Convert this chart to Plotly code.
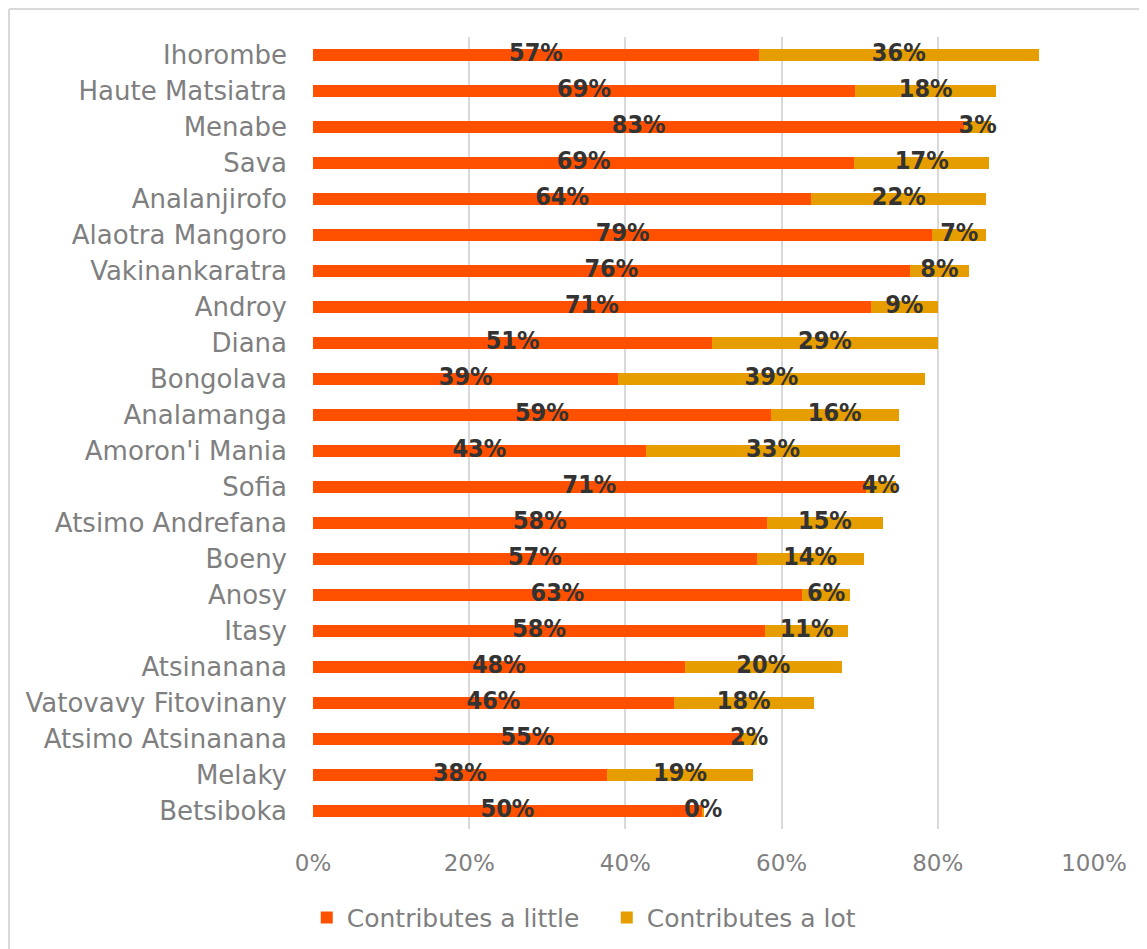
import plotly.graph_objects as go

regions = ["Ihorombe", "Haute Matsiatra", "Menabe", "Sava", "Analanjirofo",
           "Alaotra Mangoro", "Vakinankaratra", "Androy", "Diana", "Bongolava",
           "Analamanga", "Amoron'i Mania", "Sofia", "Atsimo Andrefana", "Boeny",
           "Anosy", "Itasy", "Atsinanana", "Vatovavy Fitovinany",
           "Atsimo Atsinanana", "Melaky", "Betsiboka"]

contributes_little = [57.1, 69.4, 83.4, 69.3, 63.8, 79.3, 76.4, 71.4, 51.1, 39.1,
                      58.6, 42.6, 70.8, 58.1, 56.8, 62.6, 57.9, 47.6, 46.2, 54.9,
                      37.6, 49.8]
contributes_lot = [35.8, 18.1, 3.4, 17.3, 22.4, 6.9, 7.6, 8.6, 28.9, 39.2,
                   16.4, 32.6, 3.8, 14.9, 13.7, 6.2, 10.6, 20.1, 17.9, 1.9,
                   18.8, 0.3]

x_ticks = [0, 20, 40, 60, 80, 100]
x_tick_labels = ["0%", "20%", "40%", "60%", "80%", "100%"]

C_LITTLE = "#FF5000"
C_LOT = "#E69D00"
FONT = "DejaVu Sans"
FONT_C = "DejaVu Sans Condensed, DejaVu Sans"
GREY = "#7f7f7f"

# page body adds an 8px offset; figure is sized to fill the rest of the window
W, H = 1139, 941
ML, MT = 305, 29
PW, PH = 781, 792

fig = go.Figure()
fig.add_trace(go.Bar(y=regions, x=contributes_little, orientation="h",
                     name="Contributes a little", marker=dict(color=C_LITTLE, line=dict(width=0))))
fig.add_trace(go.Bar(y=regions, x=contributes_lot, orientation="h",
                     name="Contributes a lot", marker=dict(color=C_LOT, line=dict(width=0))))

# data labels, centred on each segment
lab_font = dict(family=FONT_C, size=25, color="#333333")
fig.add_trace(go.Scatter(
    y=regions, x=[v / 2 for v in contributes_little], mode="text",
    text=[f"<b>{round(v)}%</b>" for v in contributes_little],
    textfont=lab_font, textposition="middle center", showlegend=False, hoverinfo="skip"))
fig.add_trace(go.Scatter(
    y=regions, x=[a + b / 2 for a, b in zip(contributes_little, contributes_lot)], mode="text",
    text=[f"<b>{round(v)}%</b>" for v in contributes_lot],
    textfont=lab_font, textposition="middle center", showlegend=False, hoverinfo="skip"))

n = len(regions)
fig.update_layout(
    width=W, height=H,
    margin=dict(l=ML, r=W - ML - PW, t=MT, b=H - MT - PH, autoexpand=False),
    barmode="stack", bargap=0.64,
    paper_bgcolor="white", plot_bgcolor="white",
    font=dict(family=FONT, color=GREY, size=24),
    showlegend=True,
    legend=dict(orientation="h", x=-0.008, xanchor="left", y=-0.112, yanchor="middle",
                font=dict(family=FONT, size=25, color=GREY), traceorder="normal",
                itemclick=False, tracegroupgap=0,
                entrywidth=255, entrywidthmode="pixels"),
    xaxis=dict(range=[0, 100], tickvals=x_ticks, ticktext=x_tick_labels,
               showgrid=True, gridcolor="#d9d9d9", gridwidth=1.5, zeroline=False,
               showline=False, ticks="", ticklabelstandoff=18,
               tickfont=dict(family=FONT, size=23, color=GREY)),
    yaxis=dict(range=[n - 0.5, -0.5], showgrid=False, zeroline=False,
               showline=False, ticks="", ticklabelstandoff=25,
               tickfont=dict(family=FONT, size=26, color=GREY)),
    shapes=[
        dict(type="line", xref="paper", yref="paper", x0=-(ML - 1) / PW, x1=-(ML - 1) / PW,
             y0=1 + (MT - 1) / PH, y1=-0.3, line=dict(color="#d9d9d9", width=2)),
        dict(type="line", xref="paper", yref="paper", x0=-(ML - 1) / PW, x1=1.2,
             y0=1 + (MT - 1) / PH, y1=1 + (MT - 1) / PH, line=dict(color="#d9d9d9", width=2)),
    ],
)

fig.write_html("out.html")
